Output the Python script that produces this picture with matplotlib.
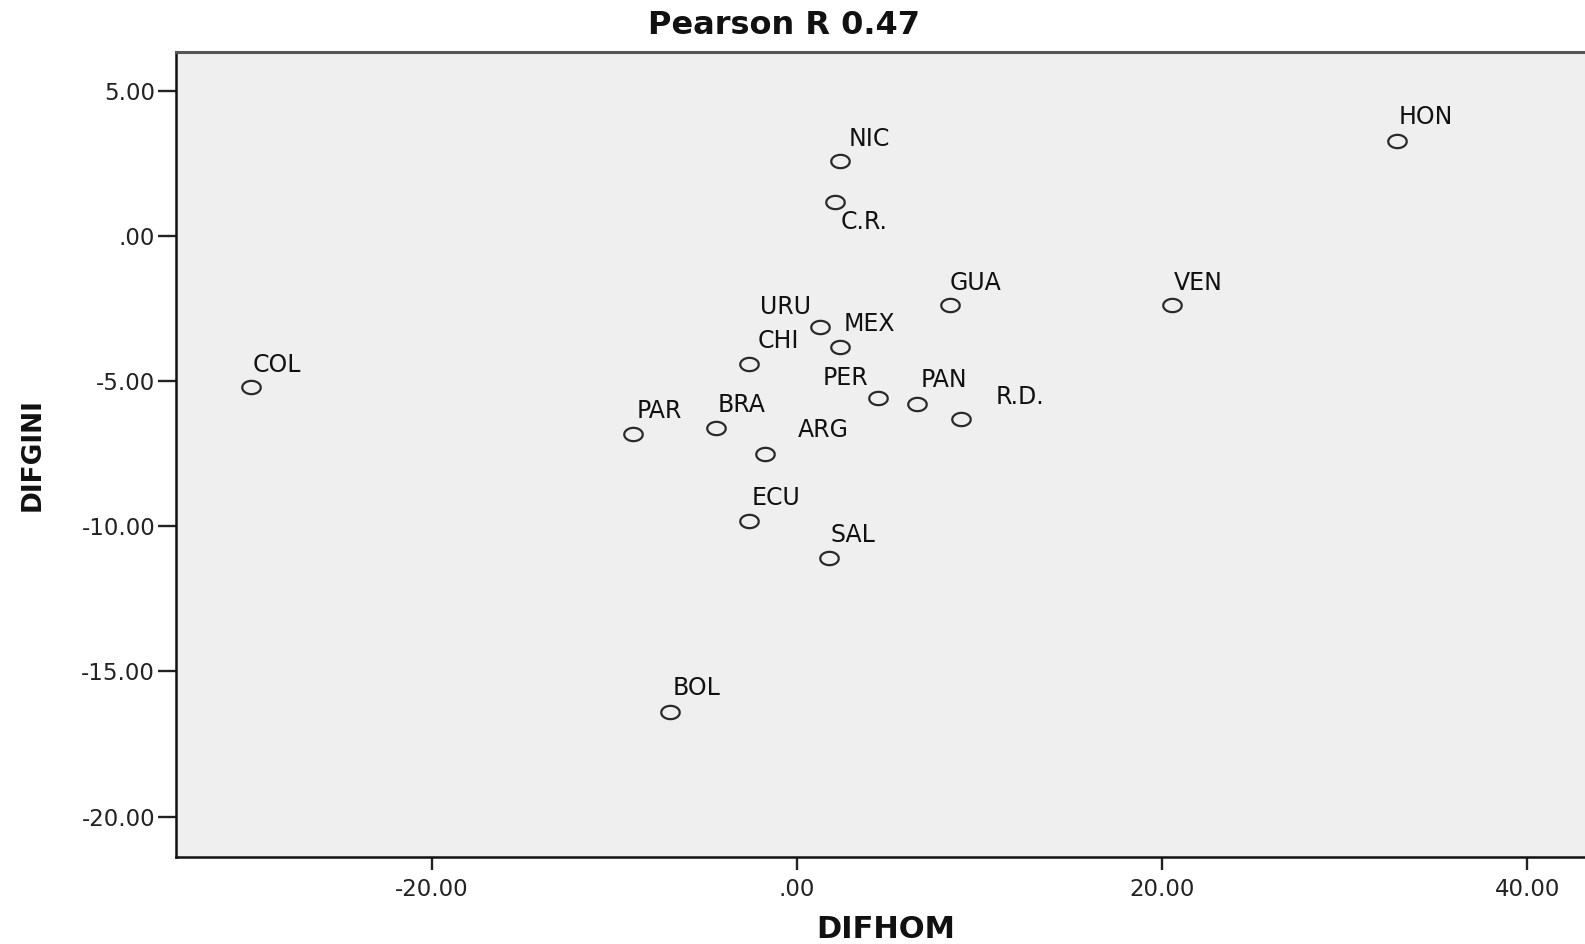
import matplotlib
matplotlib.use("Agg")
import matplotlib.pyplot as plt
import numpy as np
from matplotlib.path import Path
from matplotlib.ticker import FuncFormatter

countries = ["HON", "NIC", "C.R.", "GUA", "VEN", "URU", "MEX", "CHI", "COL",
             "PER", "PAN", "R.D.", "PAR", "BRA", "ARG", "ECU", "SAL", "BOL"]
difhom = [32.87, 2.37, 2.09, 8.37, 20.53, 1.26, 2.37, -2.63, -29.9,
          4.42, 6.59, 8.98, -8.96, -4.41, -1.74, -2.63, 1.76, -6.96]
difgini = [3.29, 2.59, 1.16, -2.39, -2.39, -3.12, -3.82, -4.41, -5.21,
           -5.59, -5.80, -6.29, -6.81, -6.60, -7.51, -9.81, -11.09, -16.39]
x_ticks = [-20, 0, 20, 40]
y_ticks = [5, 0, -5, -10, -15, -20]
title = "Pearson R 0.47"

# label offsets (pixels) and horizontal alignment
label_style = {
    "HON": (2, 24, "left"), "NIC": (9, 22, "left"), "C.R.": (6, -20, "left"),
    "GUA": (0, 22, "left"), "VEN": (2, 22, "left"), "URU": (-9, 20, "right"),
    "MEX": (4, 23, "left"), "CHI": (9, 23, "left"), "COL": (2, 22, "left"),
    "PER": (-9, 20, "right"), "PAN": (3, 24, "left"), "R.D.": (35, 22, "left"),
    "PAR": (3, 23, "left"), "BRA": (1, 23, "left"), "ARG": (33, 24, "left"),
    "ECU": (3, 23, "left"), "SAL": (2, 23, "left"), "BOL": (3, 24, "left"),
}

plt.rcParams['font.family'] = ['DejaVu Sans']

# horizontally stretched open ellipse marker (as in the SPSS output)
t = np.linspace(0, 2 * np.pi, 60)
ellipse = Path(np.column_stack([np.cos(t), 0.72 * np.sin(t)]))

W, H = 1585, 944
fig = plt.figure(figsize=(W / 100, H / 100), dpi=100)
left = 176 / W
bottom = 1 - 856.7 / H
top = 1 - 51.7 / H
ax = fig.add_axes([left, bottom, 1.005 - left, top - bottom])
ax.set_facecolor("#efefef")

ax.plot(difhom, difgini, linestyle="none", marker=ellipse, markersize=13.3,
        markerfacecolor="none", markeredgecolor="#2a2a2a", markeredgewidth=1.6)

for name, x, y in zip(countries, difhom, difgini):
    dx, dy, ha = label_style[name]
    ax.annotate(name, (x, y), xytext=(dx, dy), textcoords="offset pixels",
                ha=ha, va="center", fontsize=17, color="#111111")

ax.set_xlim(-34.0, 43.6)
ax.set_ylim(-21.38, 6.35)
ax.set_xticks(x_ticks)
ax.set_yticks(y_ticks)


def fmt(v, pos):
    s = f"{v:.2f}"
    if s.startswith("0."):
        s = s[1:]
    if s == "-0.00":
        s = ".00"
    return s


ax.xaxis.set_major_formatter(FuncFormatter(fmt))
ax.yaxis.set_major_formatter(FuncFormatter(fmt))
ax.tick_params(axis="y", length=13, width=1.7, pad=2, labelsize=16.5,
               colors="#222222")
ax.tick_params(axis="x", length=9.5, width=1.7, pad=6, labelsize=16.5,
               colors="#222222")

for s in ["left", "bottom"]:
    ax.spines[s].set_color("#111111")
    ax.spines[s].set_linewidth(1.8)
ax.spines["top"].set_color("#555555")
ax.spines["top"].set_linewidth(2.2)
ax.spines["right"].set_visible(False)

fig.text(784 / W, 1 - 26 / H, title, ha="center", va="center",
         fontsize=23, fontweight="bold", color="#111111")
fig.text(885.6 / W, 1 - 929 / H, "DIFHOM", ha="center", va="center",
         fontsize=22, fontweight="bold", color="#111111")
fig.text(33 / W, 1 - 455 / H, "DIFGINI", ha="center", va="center",
         rotation=90, fontsize=19, fontweight="bold", color="#111111")

fig.savefig("out.png", dpi=100)
